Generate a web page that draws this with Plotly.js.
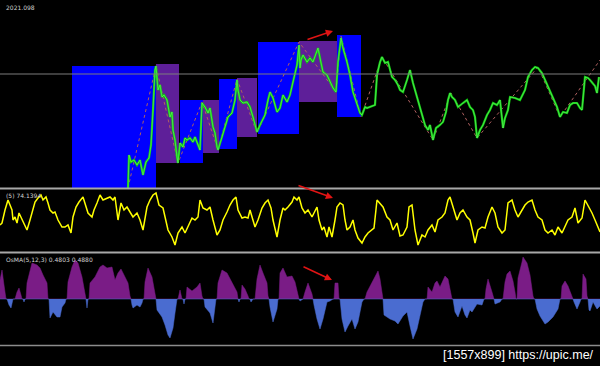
<!DOCTYPE html>
<html>
<head>
<meta charset="utf-8">
<script src="https://cdn.plot.ly/plotly-3.0.1.min.js"></script>
<style>html,body{margin:0;padding:0;background:#000;}#chart{width:600px;height:366px;}</style>
</head>
<body>
<div id="chart"></div>
<script>
// ---- price (bar index, price in points) ----
const priceX = [128,129,131,134,137,140,143,146,149,151,153,155,156,158,160,162,164,167,170,172,173,175,177,178,180,183,185,187,190,193,195,197,200,202,205,208,210,213,215,217,218,222,225,228,232,235,237,238,240,243,247,250,253,257,260,265,268,270,273,277,280,283,287,290,293,297,299,300,301,303,307,310,313,317,318,320,323,327,330,333,336,338,341,343,347,350,353,357,360,362,365,367,370,373,375,377,380,382,385,388,390,392,395,398,400,403,407,410,413,417,420,423,425,428,430,433,436,440,443,446,448,450,452,455,458,463,467,470,473,475,477,480,483,487,490,493,497,500,503,505,508,510,515,520,525,528,532,535,538,542,545,550,553,557,560,563,567,570,573,577,580,582,585,588,590,593,595,597,599];
const priceV = [0,33,26,28,23,28,13,26,30,43,78,118,122,98,103,91,93,88,71,76,58,48,31,25,45,41,50,48,50,46,51,45,38,85,81,75,80,61,55,41,38,51,61,71,75,88,108,98,88,85,86,81,71,56,63,73,88,96,90,76,80,93,86,93,106,123,143,120,128,133,126,130,126,138,140,130,116,113,106,100,96,126,150,140,126,113,96,83,75,73,81,80,81,82,83,113,126,131,125,126,118,111,108,103,98,96,108,118,105,91,81,71,63,58,63,48,60,63,66,76,88,95,91,88,81,85,88,81,78,71,50,58,63,73,78,85,83,88,60,70,78,91,90,88,98,111,118,121,120,115,108,98,91,81,71,76,75,83,85,85,80,78,111,110,108,105,102,95,111];

// zigzag swing points
const zigX = [128,156,178,202,218,237,257,299,336,341,361,382,433,451,477,538,560,600];
const zigV = [0,122,25,86,38,109,55,146,96,152,71,131,48,95,50,121,71,128];

// boxes (start bar, end bar, low price, high price, kind)
const boxStart = [72,156,180,203,219,237,258,299,337];
const boxEnd   = [156,179,203,219,237,257,299,337,361];
const boxLow   = [0,25,25,35,39,51,54,86,71];
const boxHigh  = [122,124,88,88,109,110,146,147,153];
const boxKind  = ['up','down','up','down','up','down','up','down','up'];
const levelPrice = 114;

// ---- oscillator ----
const oscX = [0,2,5,8,12,13,15,17,19,22,25,27,30,33,35,38,41,43,46,48,50,53,55,58,62,65,68,71,73,76,79,83,85,88,92,94,97,100,103,107,110,113,115,118,121,124,127,130,133,137,140,143,147,150,153,156,159,163,165,168,172,175,178,182,185,188,192,195,198,200,203,207,210,213,217,220,223,227,230,233,236,238,242,245,248,250,253,255,258,262,265,268,271,273,277,280,283,285,288,292,294,297,299,302,305,308,312,315,317,319,322,324,327,329,332,335,337,340,343,345,347,350,353,355,358,362,365,368,372,374,377,380,383,387,390,393,397,400,403,407,409,412,415,418,422,425,428,432,435,438,442,445,448,450,453,457,460,463,467,470,473,475,478,482,485,488,492,495,498,502,505,508,512,515,518,522,525,528,532,535,538,542,545,548,552,555,558,562,565,568,572,575,578,582,585,588,592,595,598,600];
const oscV = [27,29,42,52,42,32,35,29,39,32,25,22,32,42,50,54,57,52,55,49,42,39,40,32,25,25,27,19,35,45,50,55,49,39,35,42,49,57,52,54,55,52,55,32,49,42,45,40,35,39,32,22,45,52,57,59,47,44,35,22,15,7,19,25,19,25,34,32,35,52,44,42,45,32,17,22,32,40,47,52,55,42,34,35,34,42,32,25,32,44,49,52,44,32,15,32,44,42,45,50,55,52,55,44,39,42,35,42,45,32,22,25,15,25,15,32,45,49,47,32,22,25,32,22,14,9,15,19,22,24,52,49,45,35,32,22,29,16,17,25,45,47,22,7,17,15,22,27,20,32,35,39,52,55,45,32,39,42,35,32,19,9,22,25,24,35,45,39,25,19,22,49,52,42,35,42,47,50,52,42,35,32,22,19,22,17,25,19,25,32,35,44,29,34,52,47,39,32,25,20];

// ---- OsMA histogram ----
const histX = [0,2,4,6, 7,9,11,13, 15,17,19,21,22, 23,24,25, 26,27,30,32,37,40,43,47,48, 49,50,53,57,60,62,65,66, 67,68,72,75,78,82,85,86, 87,88, 89,90,95,100,103,107,112,115,118,121,125,128,130,131, 132,133,137,140,142,143, 144,145,148,152,155,156, 157,162,165,168,170,173,175,177, 178,180,182, 183,184,185, 186,187,192,197,200,202,203, 204,205,210,213,215,216, 217,218,222,227,232,237,238, 239,240, 241,242,245,248,249, 250,251,253, 255,257,260,263,267,268,269, 270,273,277,278, 279,280,283,287,292,295,298,299, 300,301,302, 303,305,308,312,313, 314,317,320,323,327,330,333, 334,335,338,339, 340,342,345,348,352,355,358,362,364, 365,367,372,375,378,380,382,383, 384,390,395,398,403,407,410,413,417,420,423,425, 427,428,432,435,437,440,445,448,451,452, 453,455,458,462,465,467,470,472,477,482,484, 485,486,488,492,494, 495,500,502, 503,505,507,510,513,515,516, 517,518,522,523,527,530,533,534, 535,537,540,545,548,553,558,560, 561,562,565,568,572,573, 574,577,580,581, 582,583,586,587,588, 589,590,593,597,600];
const histV = [19,29,14,0, 0,-6,-9,0, 0,7,11,4,0, 0,-3,0, 0,16,29,36,34,31,24,16,0, 0,-19,-13,-18,-18,-8,-4,0, 0,17,32,39,36,22,8,0, -9,0, 0,16,22,32,34,31,32,19,26,30,21,16,3,0, -6,-9,-6,-8,-4,0, 0,17,31,22,7,0, -11,-18,-26,-36,-39,-29,-14,0, 0,9,0, 0,-5,0, 0,12,8,12,16,3,0, 0,-8,-14,-24,-7,0, 0,16,29,26,16,7,0, -3,0, 0,14,10,3,0, 0,-3,0, 0,20,34,26,16,3,0, -8,-23,-10,0, 0,26,31,22,23,17,3,0, -2,-1,0, 0,7,16,5,0, -6,-20,-30,-20,-3,-2,0, 0,16,16,0, 0,-20,-33,-27,-20,-30,-23,-3,0, 0,7,17,23,28,20,3,0, -16,-20,-22,-25,-17,-13,-27,-40,-30,-17,-3,0, 0,12,7,16,18,12,23,20,3,0, 0,-13,-18,-7,-16,-19,-11,-13,-5,-6,0, 0,10,20,7,0, -5,-3,0, 0,17,25,28,18,7,0, 0,21,37,42,36,24,3,0, 0,-10,-17,-25,-23,-18,-10,0, 0,13,18,13,3,0, -3,-10,-3,0, 0,25,20,3,0, -11,-12,-3,-10,-7];

const mainLabel = '2021.098';
const oscLabel = '(5) 74.1394';
const histLabel = 'OsMA(5,12,3) 0.4803 0.4880';
const watermark = '[1557x899] https://upic.me/';

// ---- build ----
const H = 366;
const py = p => 1 - p / H;
const histPos = histV.map(v => Math.max(v, 0));
const histNeg = histV.map(v => Math.min(v, 0));

const traces = [
  {x: zigX, y: zigV, type: 'scatter', mode: 'lines', xaxis: 'x', yaxis: 'y',
   line: {color: '#b06060', width: 1, dash: 'dot'}, hoverinfo: 'skip'},
  {x: priceX, y: priceV, type: 'scatter', mode: 'lines', xaxis: 'x', yaxis: 'y',
   line: {color: '#10c810', width: 2.2}, hoverinfo: 'skip'},
  {x: priceX, y: priceV, type: 'scatter', mode: 'lines', xaxis: 'x', yaxis: 'y',
   line: {color: '#7dff7d', width: 0.5}, hoverinfo: 'skip'},
  {x: oscX, y: oscV, type: 'scatter', mode: 'lines', xaxis: 'x', yaxis: 'y2',
   line: {color: '#ffff00', width: 1.5}, hoverinfo: 'skip'},
  {x: histX, y: histPos, type: 'scatter', mode: 'lines', fill: 'tozeroy', xaxis: 'x', yaxis: 'y3',
   line: {color: '#7a1c86', width: 0.5}, fillcolor: '#7a1c86', hoverinfo: 'skip'},
  {x: histX, y: histNeg, type: 'scatter', mode: 'lines', fill: 'tozeroy', xaxis: 'x', yaxis: 'y3',
   line: {color: '#4a6cd0', width: 0.5}, fillcolor: '#4a6cd0', hoverinfo: 'skip'}
];

const shapes = [];
for (let i = 0; i < boxStart.length; i++) {
  shapes.push({type: 'rect', xref: 'x', yref: 'y', layer: 'below',
    x0: boxStart[i], x1: boxEnd[i], y0: boxLow[i], y1: boxHigh[i],
    fillcolor: boxKind[i] === 'up' ? '#0000ff' : '#5e1f99', line: {width: 0}});
}
shapes.push({type: 'line', xref: 'paper', yref: 'y', x0: 0, x1: 1, y0: levelPrice, y1: levelPrice,
  line: {color: '#7c7c7c', width: 1}});
shapes.push({type: 'line', xref: 'paper', yref: 'paper', x0: 0, x1: 1, y0: py(188.5), y1: py(188.5),
  line: {color: '#a8a8a8', width: 2}});
shapes.push({type: 'line', xref: 'paper', yref: 'paper', x0: 0, x1: 1, y0: py(252.5), y1: py(252.5),
  line: {color: '#a8a8a8', width: 2}});
shapes.push({type: 'line', xref: 'paper', yref: 'paper', x0: 0, x1: 1, y0: py(345.5), y1: py(345.5),
  line: {color: '#8c8c8c', width: 1.5}});

const arrow = (x, y, yref, ax, ay) => ({x: x, y: y, xref: 'x', yref: yref, ax: ax, ay: ay,
  text: '', showarrow: true, arrowhead: 2, arrowsize: 0.9, arrowwidth: 1.6, arrowcolor: '#e01414'});
const label = (t, yp) => ({text: t, x: 4 / 600, y: py(yp), xref: 'paper', yref: 'paper',
  xanchor: 'left', yanchor: 'top', showarrow: false, font: {family: 'DejaVu Sans', size: 6, color: '#d0d0d0'}});

const annotations = [
  arrow(333, 157, 'y', -27, 9),
  arrow(333, 54, 'y2', -36, -13),
  arrow(332, 19, 'y3', -30, -14),
  label(mainLabel, 2),
  label(oscLabel, 190),
  label(histLabel, 254),
  {text: watermark, x: 596 / 600, y: py(355), xref: 'paper', yref: 'paper', xanchor: 'right', yanchor: 'middle',
   showarrow: false, font: {family: 'Liberation Sans, Arial, sans-serif', size: 12.5, color: '#ffffff'}}
];

const layout = {
  width: 600, height: 366,
  margin: {l: 0, r: 0, t: 0, b: 0, pad: 0},
  paper_bgcolor: '#000000', plot_bgcolor: '#000000',
  showlegend: false,
  xaxis: {range: [0, 600], domain: [0, 1], visible: false, fixedrange: true},
  yaxis: {range: [0, 188], domain: [py(188), 1], visible: false, fixedrange: true},
  yaxis2: {range: [0, 62], domain: [py(252), py(190)], visible: false, fixedrange: true, anchor: 'x'},
  yaxis3: {range: [-46, 45], domain: [py(345), py(254)], visible: false, fixedrange: true, anchor: 'x'},
  shapes: shapes,
  annotations: annotations
};

Plotly.newPlot('chart', traces, layout, {staticPlot: true, displayModeBar: false});
</script>
</body>
</html>
